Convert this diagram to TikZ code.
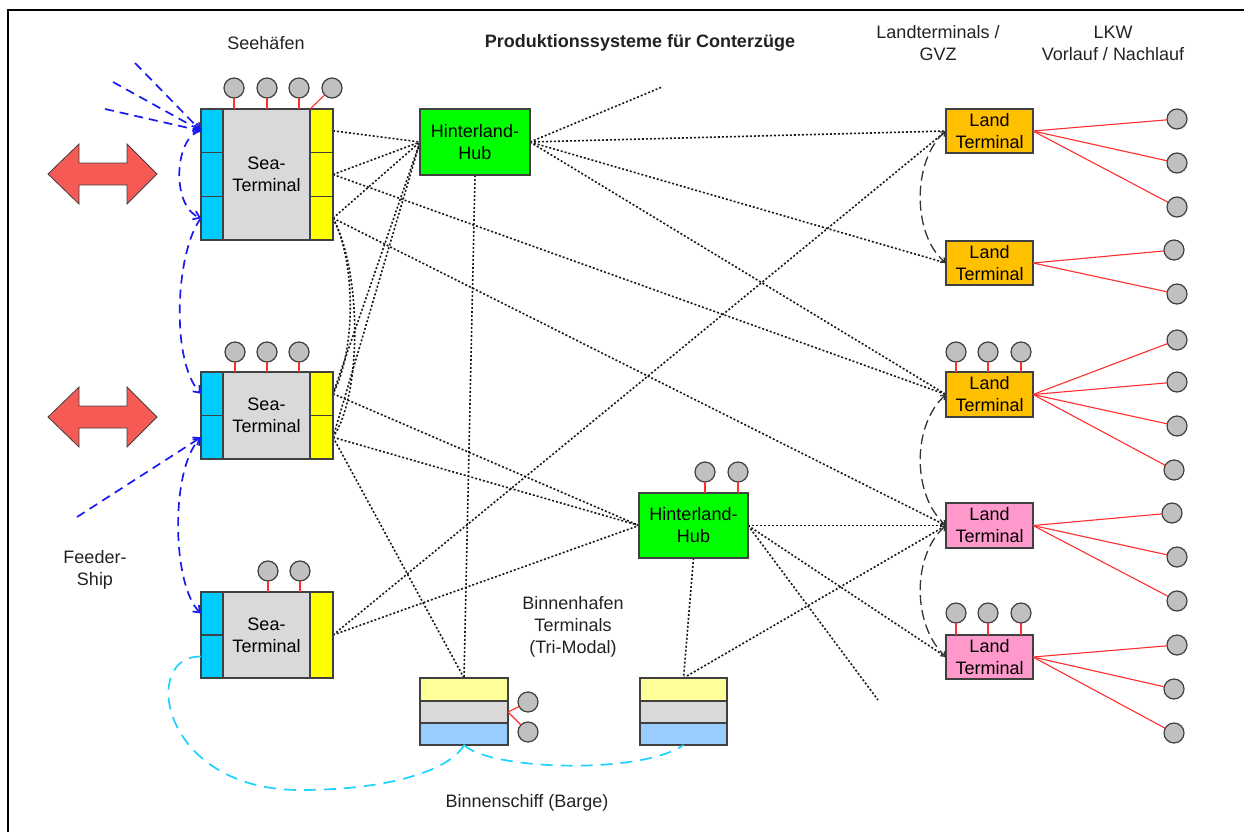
\documentclass[tikz,border=0pt]{standalone}
\usepackage{fontspec}
\setmainfont{Liberation Sans}
\usetikzlibrary{arrows.meta,backgrounds}
\definecolor{seablue}{RGB}{0,204,255}
\definecolor{termgray}{RGB}{217,217,217}
\definecolor{termyellow}{RGB}{255,255,0}
\definecolor{hubgreen}{RGB}{0,255,0}
\definecolor{landorange}{RGB}{255,192,0}
\definecolor{landpink}{RGB}{255,153,204}
\definecolor{bargeyellow}{RGB}{255,255,153}
\definecolor{bargeblue}{RGB}{153,204,255}
\definecolor{circlegray}{RGB}{192,192,192}
\definecolor{boxline}{RGB}{64,64,64}
\definecolor{stemred}{RGB}{255,45,45}
\definecolor{feederblue}{RGB}{25,25,240}
\definecolor{bargecyan}{RGB}{30,210,255}
\definecolor{arrowred}{RGB}{245,90,85}
\definecolor{textgray}{RGB}{34,34,34}
\begin{document}
\begin{tikzpicture}[x=1pt,y=-1pt,
  every node/.style={inner sep=0pt,outer sep=0pt},
  box/.style={draw=boxline,line width=1.1pt,rectangle},
  lbl/.style={font=\fontsize{18}{22}\selectfont,text=textgray,align=center},
  blbl/.style={font=\fontsize{18}{22}\selectfont,text=black,align=center},
  crane/.style={circle,draw=boxline,line width=1.2pt,fill=circlegray,minimum size=20pt},
  stem/.style={draw=stemred,line width=1.1pt},
  link/.style={draw=black!90,line width=1.6pt,dash pattern=on 2pt off 2pt},
  feeder/.style={draw=feederblue,line width=1.7pt,dash pattern=on 9pt off 6pt},
  feedtip/.style={-{Straight Barb[length=6pt,width=9pt]}},
  bargeway/.style={draw=bargecyan,line width=1.7pt,dash pattern=on 12pt off 8pt},
  relay/.style={draw=black!80,line width=1.3pt,dash pattern=on 10pt off 5pt},
  relaytip/.style={{Straight Barb[length=4pt,width=6pt]}-{Straight Barb[length=4pt,width=6pt]}},
  bigarrow/.style={fill=arrowred,draw=boxline,line width=0.8pt}
]
\useasboundingbox (0,0) rectangle (1244,832);

% outer frame
\draw[line width=2pt] (8,840) -- (8,10) -- (1250,10);

% column headings
\node[lbl] (tsee) at (266,43) {Seehäfen};
\node[lbl] (ttitle) at (640,43) {\bfseries Produktionssysteme für Conterzüge};
\node[lbl] (tland) at (938,43) {Landterminals /\\GVZ};
\node[lbl] (tlkw) at (1113,43) {LKW\\Vorlauf / Nachlauf};
\node[lbl] (tfeed) at (95,570) {Feeder-\\Ship};
\node[lbl] (tbinn) at (573,627) {Binnenhafen\\Terminals\\(Tri-Modal)};
\node[lbl] (tbarge) at (527,803) {Binnenschiff (Barge)};

% sea terminal 1
\node[box,fill=termgray,minimum width=87,minimum height=131,blbl] (st1) at (266.5,174.5) {Sea-\\Terminal};
\node[box,fill=seablue,minimum width=22,minimum height=43.67] (st1b1) at (212,130.8) {};
\node[box,fill=seablue,minimum width=22,minimum height=43.67] (st1b2) at (212,174.5) {};
\node[box,fill=seablue,minimum width=22,minimum height=43.67] (st1b3) at (212,218.2) {};
\node[box,fill=termyellow,minimum width=23,minimum height=43.67] (st1y1) at (321.5,130.8) {};
\node[box,fill=termyellow,minimum width=23,minimum height=43.67] (st1y2) at (321.5,174.5) {};
\node[box,fill=termyellow,minimum width=23,minimum height=43.67] (st1y3) at (321.5,218.2) {};

% sea terminal 2
\node[box,fill=termgray,minimum width=87,minimum height=87,blbl] (st2) at (266.5,415.5) {Sea-\\Terminal};
\node[box,fill=seablue,minimum width=22,minimum height=43.5] (st2b1) at (212,393.75) {};
\node[box,fill=seablue,minimum width=22,minimum height=43.5] (st2b2) at (212,437.25) {};
\node[box,fill=termyellow,minimum width=23,minimum height=43.5] (st2y1) at (321.5,393.75) {};
\node[box,fill=termyellow,minimum width=23,minimum height=43.5] (st2y2) at (321.5,437.25) {};

% sea terminal 3
\node[box,fill=termgray,minimum width=87,minimum height=86,blbl] (st3) at (266.5,635) {Sea-\\Terminal};
\node[box,fill=seablue,minimum width=22,minimum height=43] (st3b1) at (212,613.5) {};
\node[box,fill=seablue,minimum width=22,minimum height=43] (st3b2) at (212,656.5) {};
\node[box,fill=termyellow,minimum width=23,minimum height=86] (st3y) at (321.5,635) {};

% hinterland hubs
\node[box,fill=hubgreen,minimum width=110,minimum height=66,blbl] (hub1) at (475,142) {Hinterland-\\Hub};
\node[box,fill=hubgreen,minimum width=109,minimum height=65,blbl] (hub2) at (693.5,525.5) {Hinterland-\\Hub};

% land terminals
\node[box,fill=landorange,minimum width=87,minimum height=44,blbl] (lt1) at (989.5,131) {Land\\Terminal};
\node[box,fill=landorange,minimum width=87,minimum height=44,blbl] (lt2) at (989.5,263) {Land\\Terminal};
\node[box,fill=landorange,minimum width=87,minimum height=45,blbl] (lt3) at (989.5,394.5) {Land\\Terminal};
\node[box,fill=landpink,minimum width=87,minimum height=45,blbl] (lt4) at (989.5,525.5) {Land\\Terminal};
\node[box,fill=landpink,minimum width=87,minimum height=44,blbl] (lt5) at (989.5,657) {Land\\Terminal};

% inland port terminals (tri-modal)
\node[box,fill=bargeyellow,minimum width=88,minimum height=23] (b1y) at (464,689.5) {};
\node[box,fill=termgray,minimum width=88,minimum height=22] (b1g) at (464,712) {};
\node[box,fill=bargeblue,minimum width=88,minimum height=22] (b1w) at (464,734) {};
\node[box,fill=bargeyellow,minimum width=87,minimum height=23] (b2y) at (683.5,689.5) {};
\node[box,fill=termgray,minimum width=87,minimum height=22] (b2g) at (683.5,712) {};
\node[box,fill=bargeblue,minimum width=87,minimum height=22] (b2w) at (683.5,734) {};

% cranes on the terminals
\foreach \x [count=\i] in {234,267,299,332} \node[crane] (s1c\i) at (\x,88) {};
\foreach \x [count=\i] in {235,267,299} \node[crane] (s2c\i) at (\x,352) {};
\foreach \x [count=\i] in {268,300} \node[crane] (s3c\i) at (\x,571) {};
\foreach \x [count=\i] in {705,738} \node[crane] (h2c\i) at (\x,472) {};
\foreach \x [count=\i] in {956,988,1021} \node[crane] (l3c\i) at (\x,352) {};
\foreach \x [count=\i] in {956,988,1021} \node[crane] (l5c\i) at (\x,613) {};
\node[crane] (bc1) at (528,702) {};
\node[crane] (bc2) at (528,732) {};

\foreach \i in {1,2,3} \draw[stem] (s1c\i) -- (s1c\i |- st1.north);
\draw[stem] (s1c4) -- (st1.north east);
\foreach \i in {1,2,3} \draw[stem] (s2c\i) -- (s2c\i |- st2.north);
\foreach \i in {1,2} \draw[stem] (s3c\i) -- (s3c\i |- st3.north);
\foreach \i in {1,2} \draw[stem] (h2c\i) -- (h2c\i |- hub2.north);
\foreach \i in {1,2,3} \draw[stem] (l3c\i) -- (l3c\i |- lt3.north);
\foreach \i in {1,2,3} \draw[stem] (l5c\i) -- (l5c\i |- lt5.north);
\draw[stem] (b1g.east) -- (bc1);
\draw[stem] (b1g.east) -- (bc2);

% trucks (pre- and on-carriage)
\foreach \x/\y [count=\i] in {1177/119,1177/163,1177/207,1174/250,1177/294,
  1177/340,1177/382,1177/426,1174/470,1172/513,1177/557,1177/601,
  1177/645,1174/689,1174/733}
  \node[crane] (k\i) at (\x,\y) {};
\foreach \i in {1,2,3} \draw[stem] (lt1.east) -- (k\i);
\foreach \i in {4,5} \draw[stem] (lt2.east) -- (k\i);
\foreach \i in {6,7,8,9} \draw[stem] (lt3.east) -- (k\i);
\foreach \i in {10,11,12} \draw[stem] (lt4.east) -- (k\i);
\foreach \i in {13,14,15} \draw[stem] (lt5.east) -- (k\i);

% sea-side double arrows
\draw[bigarrow] (48,174) -- (79,144) -- (79,163) -- (127,163) -- (127,144) -- (157,174)
  -- (127,204) -- (127,185) -- (79,185) -- (79,204) -- cycle;
\draw[bigarrow] (48,417) -- (79,387) -- (79,406) -- (127,406) -- (127,387) -- (157,417)
  -- (127,447) -- (127,428) -- (79,428) -- (79,447) -- cycle;

% free ends of connectors
\coordinate (fs1) at (135,63);
\coordinate (fs2) at (113,82);
\coordinate (fs3) at (105,109);
\coordinate (fs4) at (77,517);
\coordinate (fe1) at (662,87);
\coordinate (fe2) at (878,700);

\begin{scope}[on background layer]
% train connections
\draw[link] (st1y1.east) -- (hub1.west);
\draw[link] (st1y2.east) -- (hub1.west);
\draw[link] (st1y3.east) -- (hub1.west);
\draw[link] (st2y1.east) -- (hub1.west);
\draw[link] (st2y2.east) -- (hub1.west);
\draw[link] (st1y3.east) .. controls (356,262) and (356,350) .. (st2y1.east);
\draw[link] (st1y3.east) .. controls (362,272) and (362,395) .. (st2y2.east);
\draw[link] (st1y2.east) -- (lt3.west);
\draw[link] (st1y3.east) -- (lt4.west);
\draw[link] (st2y1.east) -- (hub2.west);
\draw[link] (st2y2.east) -- (hub2.west);
\draw[link] (st2y2.east) -- (b1y.north);
\draw[link] (st3y.east) -- (hub2.west);
\draw[link] (st3y.east) -- (lt1.west);
\draw[link] (hub1.south) -- (b1y.north);
\draw[link] (hub1.east) -- (fe1);
\draw[link] (hub1.east) -- (lt1.west);
\draw[link] (hub1.east) -- (lt2.west);
\draw[link] (hub1.east) -- (lt3.west);
\draw[link] (hub2.east) -- (lt4.west);
\draw[link] (hub2.east) -- (lt5.west);
\draw[link] (hub2.east) -- (fe2);
\draw[link] (hub2.south) -- (b2y.north);
\draw[link] (b2y.north) -- (lt4.west);
\end{scope}

% feeder ship routes
\draw[feeder,feedtip] (fs1) -- (st1b1.west);
\draw[feeder,feedtip] (fs2) -- (st1b1.west);
\draw[feeder,feedtip] (fs3) -- (st1b1.west);
\draw[feeder,feedtip] (st1b1.west) .. controls (175,135) and (170,205) .. (st1b3.west);
\draw[feeder,feedtip] (st1b3.west) .. controls (176,250) and (170,360) .. (st2b1.west);
\draw[feeder,feedtip] (fs4) -- (st2b2.west);
\draw[feeder,{Straight Barb[length=6pt,width=9pt]}-{Straight Barb[length=6pt,width=9pt]}]
  (st3b1.west) .. controls (172,585) and (170,470) .. (st2b2.west);

% barge routes
\draw[bargeway] (st3b2.west) .. controls (140,655) and (160,790) .. (300,790)
  .. controls (390,790) and (450,770) .. (b1w.south);
\draw[bargeway] (b1w.south) .. controls (490,770) and (640,775) .. (b2w.south);

% land terminal relays
\draw[relay,relaytip] (lt1.west) .. controls (912,160) and (912,235) .. (lt2.west);
\draw[relay,relaytip] (lt3.west) .. controls (912,425) and (912,495) .. (lt4.west);
\draw[relay,relaytip] (lt4.west) .. controls (912,555) and (912,625) .. (lt5.west);
\end{tikzpicture}
\end{document}
